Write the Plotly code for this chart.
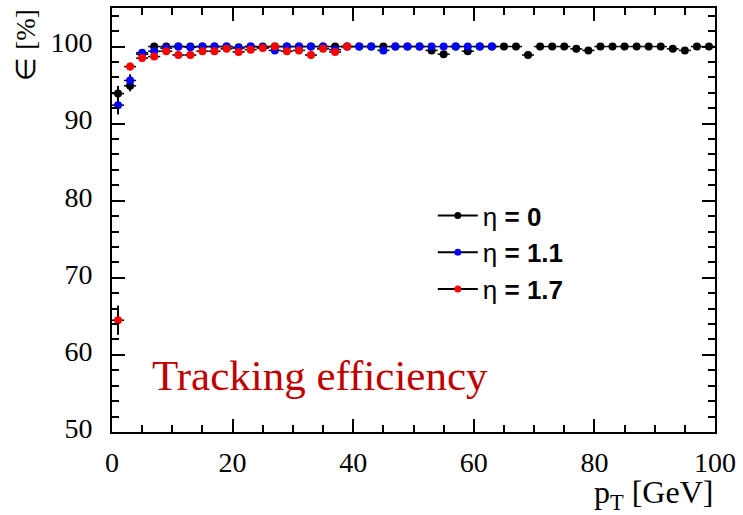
import plotly.graph_objects as go

# bin centres (GeV)
pt_eta0 = [1, 3, 5, 7, 9, 11, 13, 15, 17, 19, 21, 23, 25, 27, 29, 31, 33, 35, 37, 39,
           41, 43, 45, 47, 49, 51, 53, 55, 57, 59, 61, 63, 65, 67, 69, 71, 73, 75, 77, 79,
           81, 83, 85, 87, 89, 91, 93, 95, 97, 99]
eff_eta0 = [93.9, 94.9, 99.0, 100.0, 100.0, 100.0, 100.0, 100.0, 100.0, 100.0,
            99.9, 100.0, 100.0, 100.0, 100.0, 100.0, 100.0, 100.0, 100.0, 100.0,
            100.0, 100.0, 100.0, 100.0, 100.0, 100.0, 99.5, 99.0, 100.0, 99.4,
            100.0, 100.0, 100.0, 100.0, 98.9, 100.0, 100.0, 100.0, 99.7, 99.5,
            100.0, 100.0, 100.0, 100.0, 100.0, 100.0, 99.7, 99.5, 100.0, 100.0]
err_eta0 = [1.0, 0.7] + [0.2] * 48

pt_eta11 = [1, 3, 5, 7, 9, 11, 13, 15, 17, 19, 21, 23, 25, 27, 29, 31, 33, 35, 37, 39,
            41, 43, 45, 47, 49, 51, 53, 55, 57, 59, 61, 63]
eff_eta11 = [92.4, 95.6, 99.2, 99.4, 99.8, 100.0, 99.9, 100.0, 100.0, 100.0,
             99.8, 100.0, 99.9, 99.5, 100.0, 100.0, 100.0, 100.0, 99.6, 100.0,
             100.0, 100.0, 99.5, 100.0, 100.0, 100.0, 100.0, 100.0, 100.0, 100.0,
             100.0, 100.0]
err_eta11 = [1.2, 0.8] + [0.2] * 30

pt_eta17 = [1, 3, 5, 7, 9, 11, 13, 15, 17, 19, 21, 23, 25, 27, 29, 31, 33, 35, 37, 39]
eff_eta17 = [64.5, 97.4, 98.5, 98.7, 99.4, 98.9, 98.9, 99.4, 99.4, 99.7,
             99.3, 99.6, 99.8, 100.0, 99.4, 99.5, 98.9, 99.7, 99.3, 100.0]
err_eta17 = [1.9, 0.5] + [0.3] * 18

bin_half_width = 1.0

series = [
    ("η <b>= 0</b>", pt_eta0, eff_eta0, err_eta0, "black"),
    ("η <b>= 1.1</b>", pt_eta11, eff_eta11, err_eta11, "rgb(0,0,255)"),
    ("η <b>= 1.7</b>", pt_eta17, eff_eta17, err_eta17, "rgb(255,0,0)"),
]

fig = go.Figure()
for i, (name, xs, ys, es, col) in enumerate(series):
    fig.add_trace(go.Scatter(
        x=xs, y=ys, mode="markers", showlegend=False,
        marker=dict(color=col, size=8, line=dict(width=0)),
        error_y=dict(type="data", array=es, color="black", thickness=2, width=0),
        error_x=dict(type="constant", value=bin_half_width, color="black", thickness=1.5, width=0),
    ))
for i, (name, xs, ys, es, col) in enumerate(series):
    fig.add_trace(go.Scatter(
        x=[None], y=[None], mode="lines+markers", name=name, legendgroup=f"g{i}",
        line=dict(color="black", width=2),
        marker=dict(color=col, size=7),
    ))

serif = "Liberation Serif"
axis_common = dict(
    showline=True, linewidth=2, linecolor="black", mirror="allticks",
    ticks="inside", ticklen=13, tickwidth=2, tickcolor="black",
    showgrid=False, zeroline=False, automargin=False,
    tickfont=dict(family=serif, size=28, color="black"),
)

fig.update_xaxes(range=[0, 100], dtick=20, tick0=0,
                 minor=dict(dtick=5, ticks="inside", ticklen=7, tickwidth=1.5, tickcolor="black"),
                 ticklabelstandoff=4, **axis_common)
fig.update_yaxes(range=[50, 105], dtick=10, tick0=50,
                 minor=dict(dtick=2, ticks="inside", ticklen=7, tickwidth=1.5, tickcolor="black"),
                 ticklabelstandoff=12, ticklabelshift=-4, **axis_common)

fig.update_layout(
    width=743, height=515,
    margin=dict(l=112, r=28, t=8, b=83, autoexpand=False),
    plot_bgcolor="white", paper_bgcolor="white",
    legend=dict(x=0.532, y=0.566, xanchor="left", yanchor="top",
                font=dict(family="Liberation Sans", size=26, color="black"),
                tracegroupgap=0, bgcolor="rgba(0,0,0,0)", itemwidth=40),
    annotations=[
        dict(text="p<sub>T</sub> [GeV]", xref="paper", yref="paper", x=1, y=0,
             xanchor="right", yanchor="top", yshift=-40, showarrow=False,
             font=dict(family=serif, size=32, color="black")),
        dict(text="∈ [%]", xref="paper", yref="paper", x=0, y=1,
             xanchor="center", yanchor="top", xshift=-87, textangle=-90, showarrow=False,
             font=dict(family=serif, size=27, color="black")),
        dict(text="Tracking efficiency", xref="paper", yref="paper", x=0.345, y=0.134,
             xanchor="center", yanchor="middle", showarrow=False,
             font=dict(family=serif, size=43, color="rgb(192,0,0)")),
    ],
)

fig.write_html("out.html", config={"displayModeBar": False},
               post_script="document.body.style.margin='0';")
